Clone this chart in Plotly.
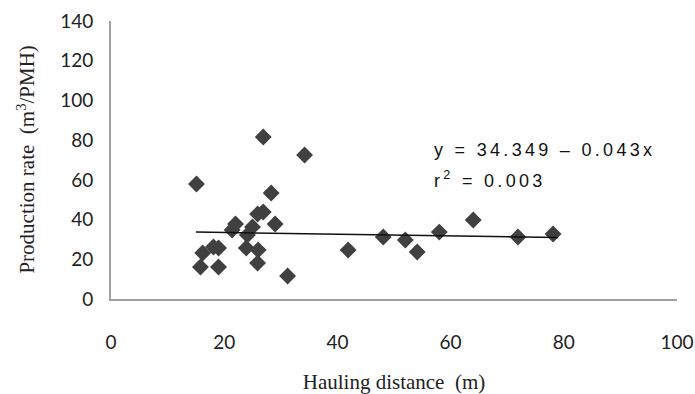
import plotly.graph_objects as go

hauling_distance = [26.9, 34.2, 15.1, 28.3, 25.9, 26.9, 22.0, 21.4, 29.0, 25.0,
                    24.1, 18.1, 19.0, 16.2, 23.9, 26.0, 15.8, 19.0, 25.9, 31.2,
                    41.9, 48.1, 52.0, 54.1, 58.0, 64.0, 71.9, 78.1]
production_rate = [81.6, 72.5, 57.9, 53.4, 42.8, 43.8, 37.8, 34.7, 37.8, 36.3,
                   32.2, 26.2, 25.7, 23.2, 25.7, 24.7, 16.1, 16.1, 18.1, 11.6,
                   24.7, 31.2, 29.7, 23.7, 33.7, 39.8, 31.2, 32.7]
intercept = 34.349
slope = -0.043
fit_x = [15, 79]
fit_y = [intercept + slope * v for v in fit_x]
x_ticks = [0, 20, 40, 60, 80, 100]
y_ticks = [0, 20, 40, 60, 80, 100, 120, 140]

W, H = 695, 394
L, R, T, B = 110.5, 18, 21, 95
pw, ph = W - L - R, H - T - B


def to_paper(px, py):
    return (px - L) / pw, 1 - (py - T) / ph


fig = go.Figure()
fig.add_trace(go.Scatter(x=hauling_distance, y=production_rate, mode="markers",
                         marker=dict(symbol="diamond", size=13, color="#404040",
                                     line=dict(width=0)),
                         showlegend=False))
fig.add_trace(go.Scatter(x=fit_x, y=fit_y, mode="lines",
                         line=dict(color="#111111", width=1.5), showlegend=False))

eq_font = dict(family="Liberation Sans, Arial", size=18, color="#111111")
ax, ay = to_paper(432, 150)
fig.add_annotation(x=ax, y=ay, xref="paper", yref="paper",
                   text='<span style="letter-spacing:3.3px">y = 34.349 – 0.043x</span>',
                   showarrow=False, xanchor="left", yanchor="middle", font=eq_font)
ax, ay = to_paper(432, 179)
fig.add_annotation(x=ax, y=ay, xref="paper", yref="paper",
                   text='<span style="letter-spacing:3.3px">r<sup>2</sup> = 0.003</span>',
                   showarrow=False, xanchor="left", yanchor="middle", font=eq_font)

title_font = dict(family="Liberation Serif, Times New Roman", size=21, color="#222222")
tick_font = dict(family="Lato, Open Sans", size=19, color="#222222")

ax, ay = to_paper(25, 160)
fig.add_annotation(x=ax, y=ay, xref="paper", yref="paper",
                   text="Production rate  (m<sup>3</sup>/PMH)", textangle=-90,
                   showarrow=False, xanchor="center", yanchor="middle", font=title_font)

fig.update_layout(
    width=W, height=H,
    margin=dict(l=L, r=R, t=T, b=B, pad=0, autoexpand=False),
    plot_bgcolor="white", paper_bgcolor="white",
    xaxis=dict(range=[0, 100], tickvals=x_ticks, showgrid=False, zeroline=False,
               showline=True, linecolor="#a0a0a0", linewidth=2, automargin=False,
               tickfont=tick_font, ticks="", ticklabelstandoff=25,
               title=dict(text="Hauling distance  (m)", standoff=26, font=title_font)),
    yaxis=dict(range=[0, 140], tickvals=y_ticks, showgrid=False, zeroline=False,
               showline=True, linecolor="#a0a0a0", linewidth=2, automargin=False,
               tickfont=tick_font, ticks="outside", ticklen=12,
               tickcolor="rgba(0,0,0,0)"),
)

fig.write_html("out.html")
